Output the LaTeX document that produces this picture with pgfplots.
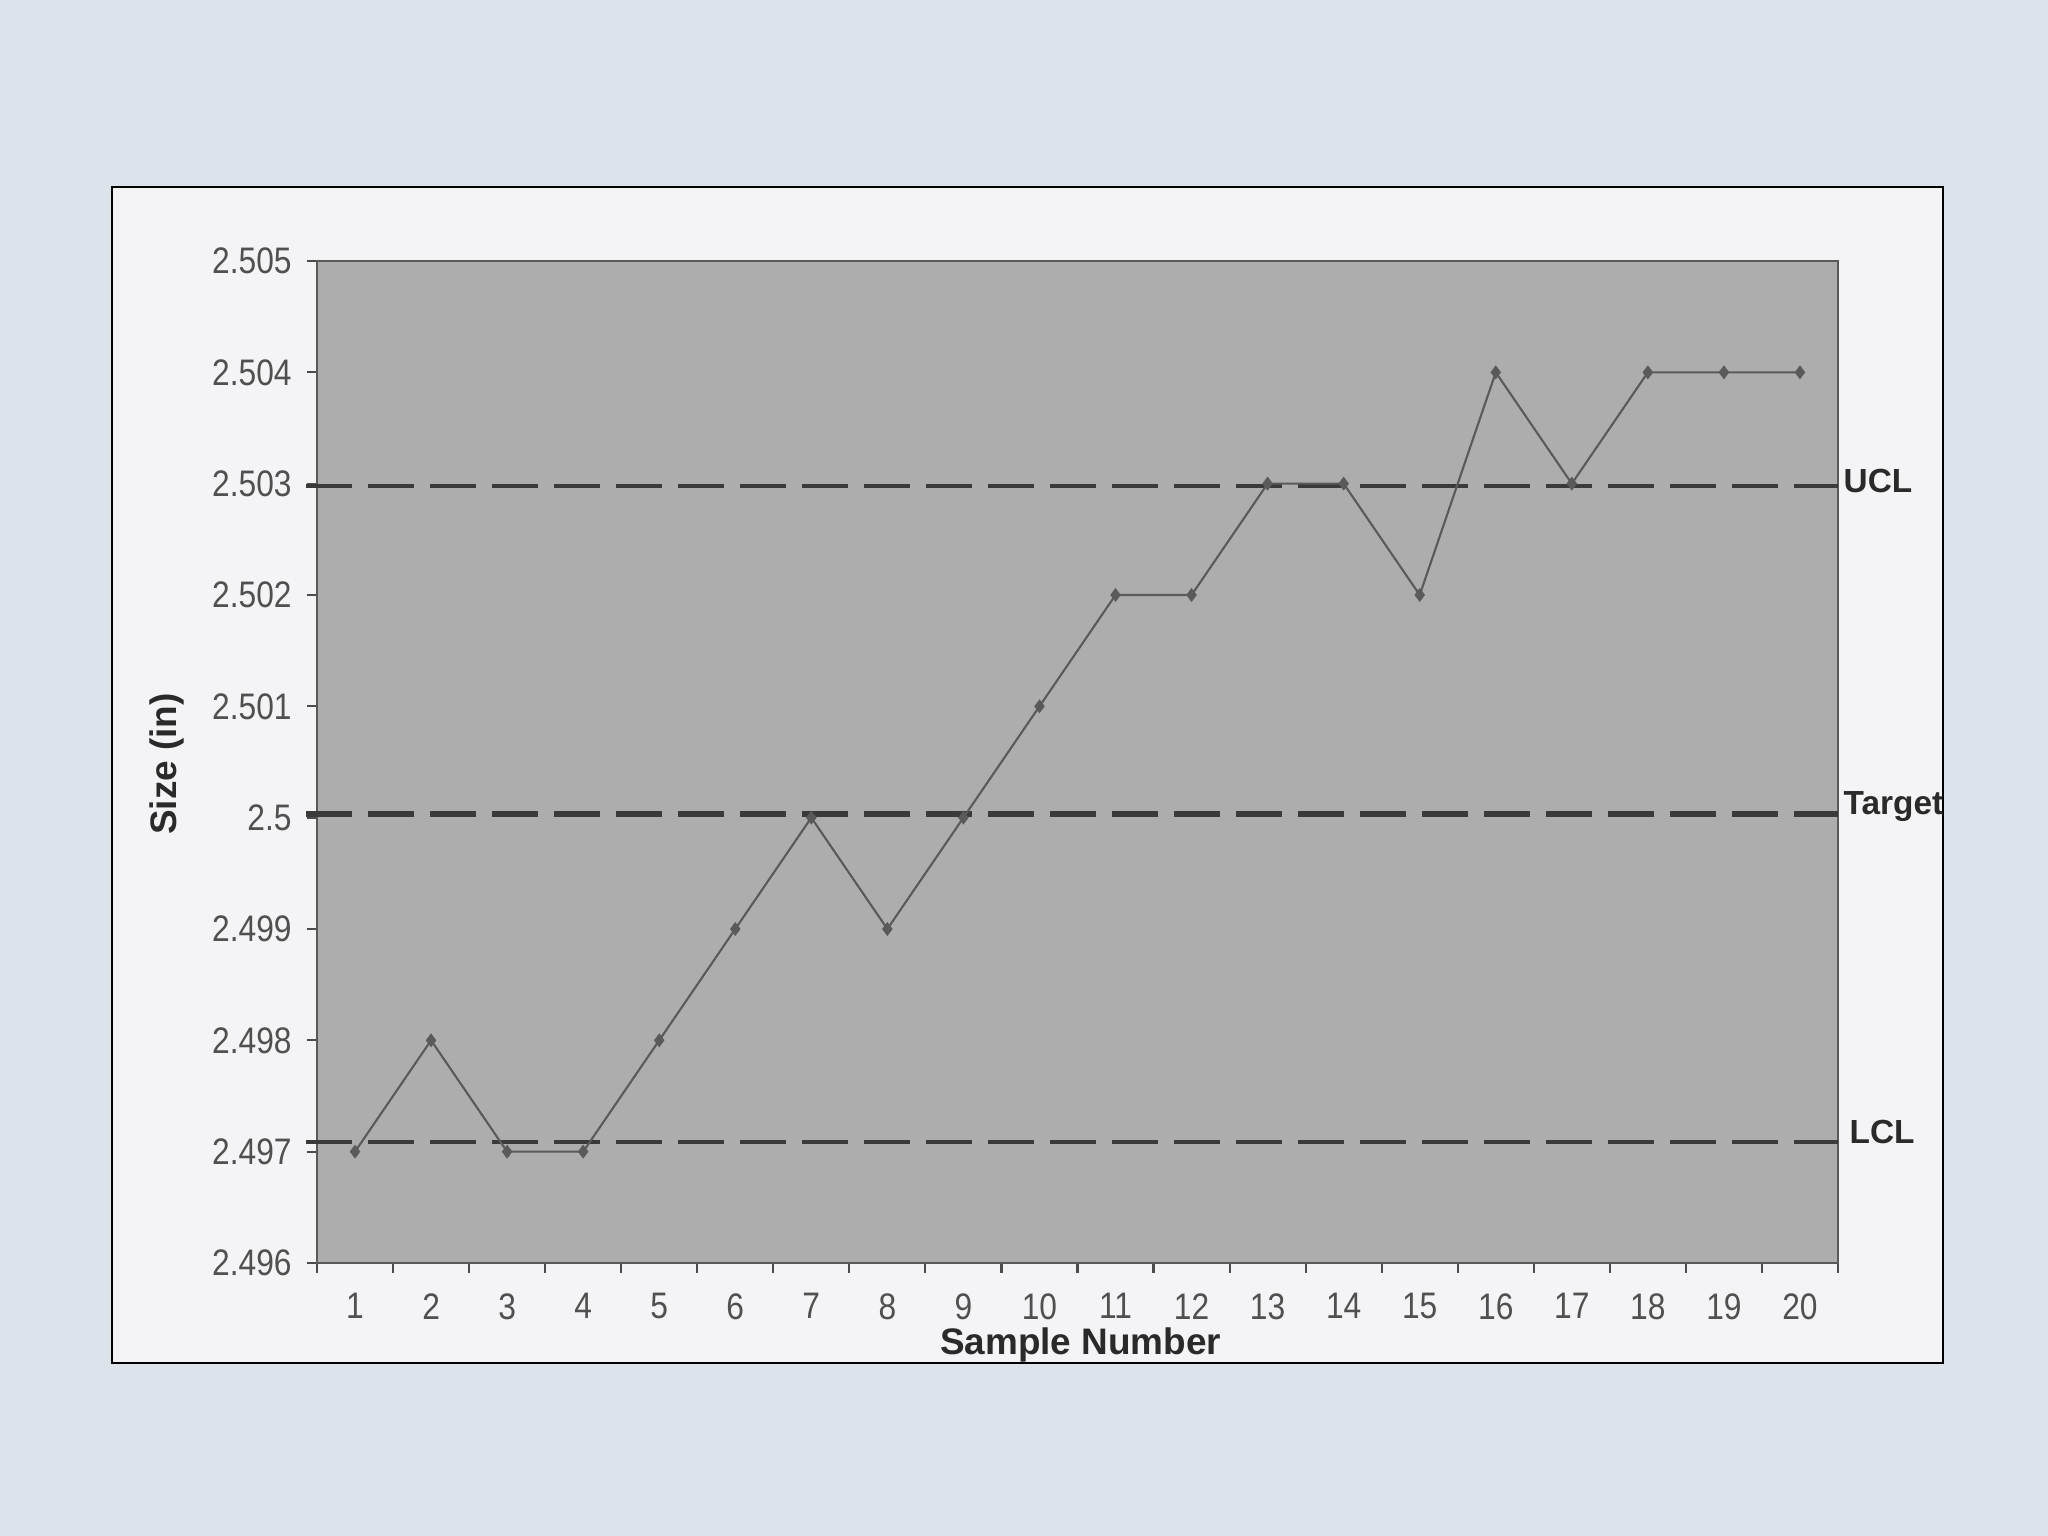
\documentclass[border=0pt]{standalone}
\usepackage{pgfplots}
\pgfplotsset{compat=1.18}
\usepackage{fontspec}
\setmainfont{Liberation Sans}
\newfontfamily\tickfont{Liberation Sans}[FakeStretch=0.86]
\definecolor{bg}{HTML}{DDE3EA}
\definecolor{framefill}{HTML}{F4F4F6}
\definecolor{plotgray}{HTML}{ADADAD}
\definecolor{datacol}{HTML}{5A5A5A}
\definecolor{limcol}{HTML}{3A3A3A}
\definecolor{ticklab}{HTML}{505050}
\definecolor{axlab}{HTML}{2A2A2A}
\begin{document}
\begin{tikzpicture}[x=1cm,y=1cm]
\fill[bg] (0,0) rectangle (20.48,15.36);
\draw[line width=0.25mm, black, fill=framefill] (1.12,1.73) rectangle (19.43,13.49);
\begin{axis}[
  at={(3.17cm,2.73cm)}, anchor=south west,
  scale only axis, width=15.21cm, height=10.02cm,
  xmin=0.5, xmax=20.5, ymin=2.496, ymax=2.505,
  axis background/.style={fill=plotgray},
  clip=false,
  axis line style={draw=black!65, line width=0.5pt},
  xtick={1,2,3,4,5,6,7,8,9,10,11,12,13,14,15,16,17,18,19,20},
  major x tick style={draw=none},
  minor xtick={0.5,1.5,2.5,3.5,4.5,5.5,6.5,7.5,8.5,9.5,10.5,11.5,12.5,13.5,14.5,15.5,16.5,17.5,18.5,19.5,20.5},
  minor x tick style={draw=black!70, line width=0.6pt},
  ytick={2.496,2.497,2.498,2.499,2.5,2.501,2.502,2.503,2.504,2.505},
  yticklabels={2.496,2.497,2.498,2.499,2.5,2.501,2.502,2.503,2.504,2.505},
  major y tick style={draw=black!70, line width=0.6pt},
  tick align=outside, tick pos=left,
  major tick length=1mm, minor tick length=1mm,
  scaled y ticks=false,
  /pgf/number format/assume math mode=true,
  ticklabel style={font=\tickfont\fontsize{10.5}{12}\selectfont, text=ticklab},
  xticklabel style={yshift=-0.8mm},
  yticklabel style={xshift=-0.3mm},
  xlabel={Sample Number},
  ylabel={Size (in)},
  xlabel style={at={(axis description cs:0.502,-0.082)}, anchor=center, font=\bfseries\fontsize{10.5}{12}\selectfont, text=axlab},
  ylabel style={at={(axis description cs:-0.0986,0.498)}, anchor=center, rotate=0, font=\bfseries\fontsize{10.5}{12}\selectfont, text=axlab},
]
\addplot[limcol, line width=1.3pt, dash pattern=on 4.6mm off 1.6mm, forget plot] coordinates {(0.36,2.50298) (20.5,2.50298)};
\addplot[limcol, line width=1.7pt, dash pattern=on 4.6mm off 1.6mm, forget plot] coordinates {(0.36,2.50003) (20.5,2.50003)};
\addplot[limcol, line width=1.2pt, dash pattern=on 4.6mm off 1.6mm, forget plot] coordinates {(0.36,2.49709) (20.5,2.49709)};
\addplot[datacol, line width=0.6pt, mark=diamond*, mark size=1.5pt, mark options={fill=datacol, draw=datacol}] coordinates {
(1,2.497) (2,2.498) (3,2.497) (4,2.497) (5,2.498) (6,2.499) (7,2.500) (8,2.499) (9,2.500) (10,2.501)
(11,2.502) (12,2.502) (13,2.503) (14,2.503) (15,2.502) (16,2.504) (17,2.503) (18,2.504) (19,2.504) (20,2.504)};
\node[anchor=west, inner sep=0.5mm, yshift=0.5mm, font=\bfseries\fontsize{9.5}{11}\selectfont, text=axlab] at (axis cs:20.5,2.50298) {UCL};
\node[anchor=west, inner sep=0.5mm, yshift=0.8mm, font=\bfseries\fontsize{9.5}{11}\selectfont, text=axlab] at (axis cs:20.5,2.50003) {Target};
\node[anchor=west, inner sep=0.5mm, xshift=0.6mm, yshift=1mm, font=\bfseries\fontsize{9.5}{11}\selectfont, text=axlab] at (axis cs:20.5,2.49709) {LCL};
\end{axis}
\end{tikzpicture}
\end{document}
